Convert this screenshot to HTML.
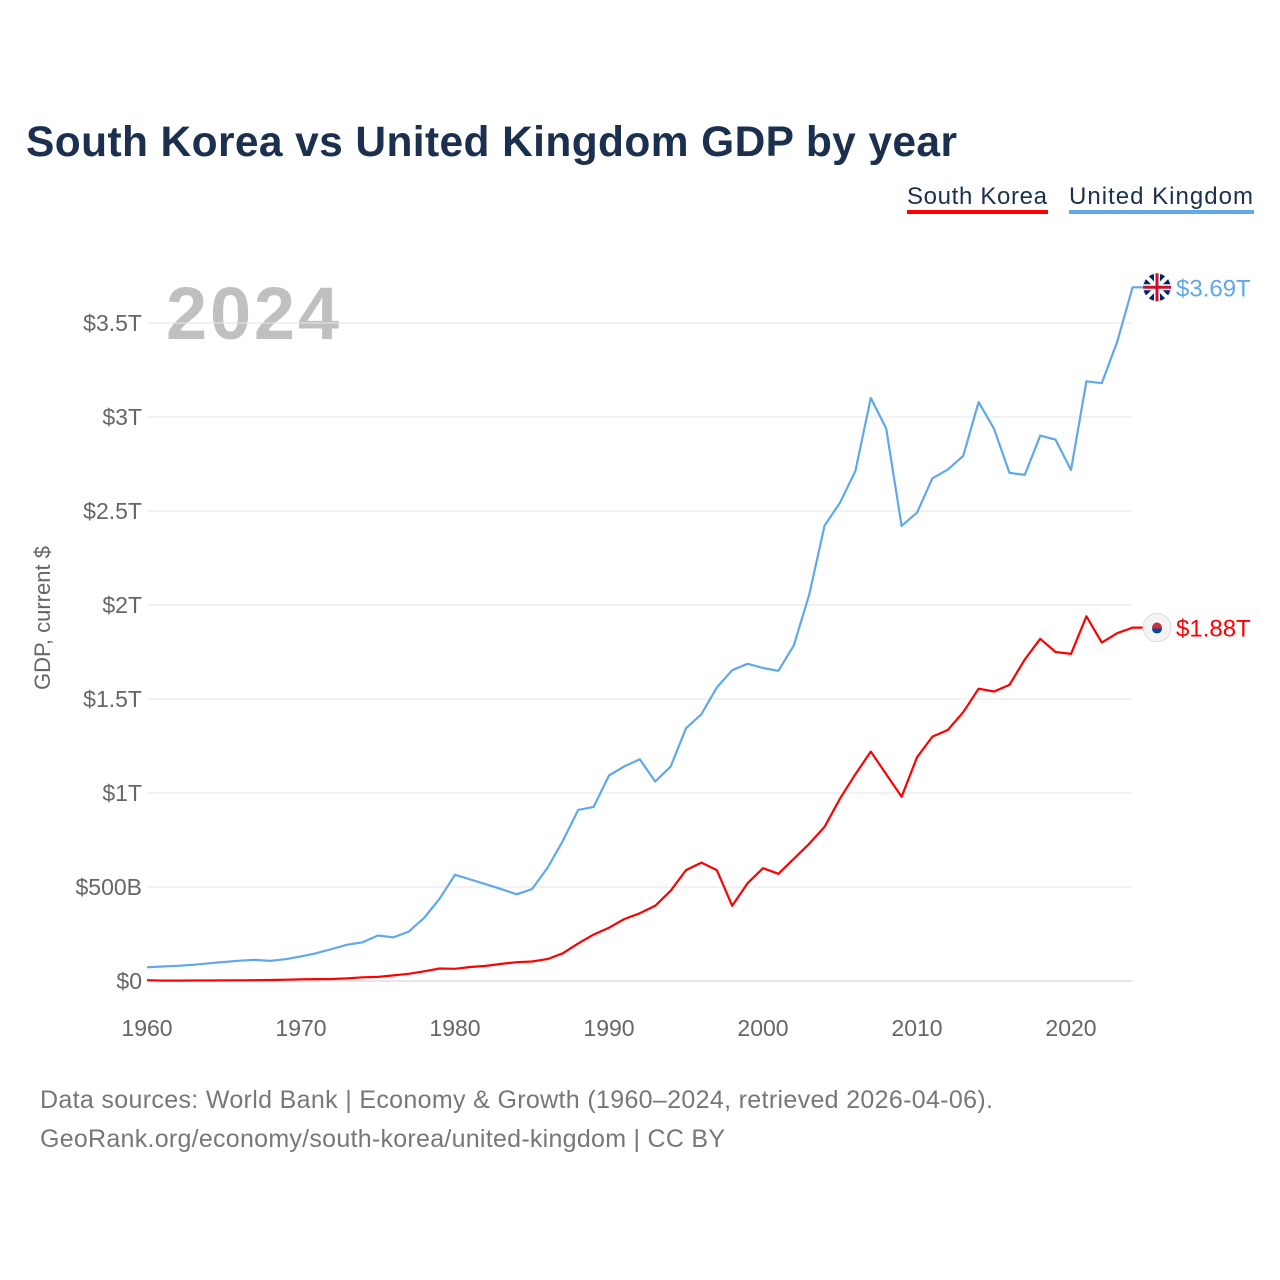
<!DOCTYPE html>
<html><head><meta charset="utf-8"><style>
body{margin:0;background:#fff;font-family:"Liberation Sans",sans-serif;}
#wrap{position:relative;width:1280px;height:1280px;overflow:hidden}
</style></head><body><div id="wrap">
<svg id="svg" width="1280" height="1280">
<text x="26" y="156" font-size="42.5" font-weight="bold" fill="#1b2f4e" textLength="931">South Korea vs United Kingdom GDP by year</text>
<g><text x="907" y="204" font-size="24" fill="#1b2f4e" textLength="140">South Korea</text><rect x="907" y="210" width="141" height="4" fill="#ff0000"/></g>
<g><text x="1069" y="204" font-size="24" fill="#1b2f4e" textLength="184">United Kingdom</text><rect x="1069" y="210" width="185" height="4" fill="#5fa8ea"/></g>
<text x="166" y="339" font-size="74" font-weight="bold" fill="#c0c0c0" textLength="173">2024</text>
<text transform="translate(50,618) rotate(-90)" text-anchor="middle" font-size="22" fill="#666">GDP, current $</text>
<g id="grid"></g><g id="xt"></g><g id="lines"></g>
<text x="40" y="1108" font-size="25" fill="#777" textLength="953">Data sources: World Bank | Economy &amp; Growth (1960–2024, retrieved 2026-04-06).</text>
<text x="40" y="1147" font-size="25" fill="#777" textLength="685">GeoRank.org/economy/south-korea/united-kingdom | CC BY</text>
</svg></div>
<script>
const years=[];for(let y=1960;y<=2024;y++)years.push(y);
const ukValues=[.073,.077,.081,.086,.094,.101,.108,.112,.107,.116,.131,.148,.170,.193,.206,.242,.232,.263,.336,.438,.565,.540,.515,.489,.461,.489,.601,.745,.910,.926,1.093,1.142,1.179,1.061,1.140,1.344,1.419,1.561,1.653,1.687,1.665,1.650,1.785,2.055,2.423,2.544,2.713,3.101,2.939,2.421,2.491,2.674,2.720,2.793,3.079,2.938,2.703,2.692,2.901,2.879,2.718,3.190,3.180,3.40,3.69];
const krValues=[.004,.0021,.0023,.0027,.0029,.003,.0037,.0044,.0055,.007,.009,.0099,.0109,.0139,.0195,.0218,.0299,.0384,.0518,.0663,.065,.0743,.0803,.0909,.1,.1035,.1167,.1476,.2001,.2468,.2833,.33,.36,.40,.48,.59,.63,.59,.40,.52,.60,.57,.65,.73,.82,.97,1.10,1.22,1.10,.98,1.19,1.30,1.335,1.43,1.555,1.54,1.575,1.71,1.82,1.75,1.74,1.94,1.80,1.85,1.88];
const yTicks=[0,.5,1,1.5,2,2.5,3,3.5];
const yTickLabels=["$0","$500B","$1T","$1.5T","$2T","$2.5T","$3T","$3.5T"];
const xTicks=[1960,1970,1980,1990,2000,2010,2020];
const X=y=>147+(y-1960)*15.4, Y=v=>981-v*188;
const NS="http://www.w3.org/2000/svg";
function mk(t,p,a){const e=document.createElementNS(NS,t);for(const k in a)e.setAttribute(k,a[k]);p.appendChild(e);return e;}
const g=document.getElementById('grid');
yTicks.forEach((v,i)=>{const l=mk('line',g,{x1:147,x2:1132,y1:Y(v),y2:Y(v),stroke:i?'#e6e6e6':'#ccc','stroke-width':1});

const t=mk('text',g,{x:142,y:Y(v)+8,'text-anchor':'end','font-size':23,fill:'#666'});t.textContent=yTickLabels[i];
});
const xt=document.getElementById('xt');
xTicks.forEach(y=>{const t=mk('text',xt,{x:X(y),y:1036,'text-anchor':'middle','font-size':23,fill:'#666'});t.textContent=y;
});
const L=document.getElementById('lines');
function series(vals,col,name,label){
 const p=mk('path',L,{d:vals.map((v,i)=>(i?'L':'M')+X(years[i]).toFixed(1)+','+Y(v).toFixed(1)).join('')+'h10',fill:'none',stroke:col,'stroke-width':2.2,'stroke-linejoin':'round'});
 
 const lv=vals[vals.length-1],ly=Y(lv);
 const c=mk('circle',L,{cx:1157,cy:ly,r:14,fill:name==='uk'?'#012169':'#f4f4f4',stroke:'#ddd'});
 
 if(name==='uk'){mk('path',L,{d:`M1147,${ly-10}l20,20M1167,${ly-10}l-20,20`,stroke:'#fff','stroke-width':4});mk('path',L,{d:`M1143,${ly}h28M1157,${ly-14}v28`,stroke:'#fff','stroke-width':6});mk('path',L,{d:`M1143,${ly}h28M1157,${ly-14}v28`,stroke:'#c8102e','stroke-width':3});}
 else{mk('circle',L,{cx:1157,cy:ly,r:5,fill:'#cd2e3a'});mk('path',L,{d:`M1152,${ly+1}a5,5 0 0 0 10,0z`,fill:'#0047a0'});}
 const t=mk('text',L,{x:1176,y:ly+9,'font-size':24,fill:col});t.textContent=label;
 
}
series(ukValues,'#5fa8ea','uk','$3.69T');
series(krValues,'#ff0000','south-korea','$1.88T');
</script></body></html>
